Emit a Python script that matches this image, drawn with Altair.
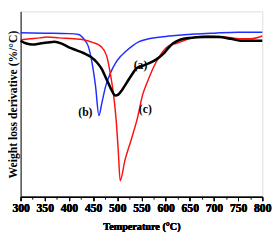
import altair as alt
import pandas as pd

# Temperature (°C) and weight-loss derivative (arbitrary units, negative = loss)
black_T = [300, 312, 325, 340, 355, 370, 385, 400, 415, 430, 445, 458, 468, 478, 488, 496, 502, 510,
           520, 530, 540, 550, 565, 580, 595, 605, 615, 630, 650, 680, 710, 735, 755, 780, 800]
black_v = [-34, -37, -38, -37, -36, -35, -37, -41, -44, -47, -51, -57, -64, -75, -86, -92, -91, -86,
           -78, -70, -63, -61, -58, -54, -48, -42, -37, -33, -31, -30, -30, -32, -34, -34, -34]

blue_T = [300, 350, 400, 420, 432, 440, 448, 455, 462, 468, 476, 486, 496, 506, 516, 530, 545,
          565, 590, 620, 660, 700, 750, 800]
blue_v = [-25.5, -26, -26.5, -27.5, -33, -40, -58, -82, -113, -100, -82, -68, -58, -51, -46, -40, -35,
          -32, -30, -28.5, -27, -26, -25, -25]

red_T = [300, 320, 340, 355, 380, 410, 430, 450, 466, 478, 486, 492, 498, 502, 506, 516, 528, 542,
         552, 562, 575, 588, 600, 612, 622, 642, 662, 688, 722, 756, 776, 800]
red_v = [-33, -32, -31, -30, -31, -32, -33, -36, -40, -50, -70, -90, -120, -150, -182, -160, -140, -115,
         -92, -78, -62, -50, -42, -38, -37, -33, -30, -29, -30, -32, -32, -29]

label_text = ["(a)", "(b)", "(c)"]
label_T = [548, 434, 558]
label_v = [-60, -110, -106]

major_ticks = [300, 350, 400, 450, 500, 550, 600, 650, 700, 750, 800]
minor_ticks = [325, 375, 425, 475, 525, 575, 625, 675, 725, 775]

FONT = "Liberation Serif"

xscale = alt.Scale(domain=[300, 800], nice=False, zero=False)
yscale = alt.Scale(domain=[-199, -3], nice=False, zero=False)

x_major = alt.Axis(values=major_ticks, orient="bottom", grid=False, tickSize=4, tickColor="black",
                   domainColor="black", labelFont=FONT, labelFontWeight="bold", labelFontSize=12,
                   labelColor="black", labelPadding=2, labelFlush=False, labelOverlap=False,
                   title="Temperature (°C)", titleFont=FONT, titleFontWeight="bold", titleFontSize=10.5,
                   titleColor="black", titlePadding=9)
y_axis = alt.Axis(orient="left", grid=False, ticks=False, labels=False, domainColor="black",
                  title="Weight loss derivative (%/°C)", titleFont=FONT, titleFontWeight="bold",
                  titleFontSize=12, titleColor="black", titlePadding=1)


def series(T, v, color, width):
    df = pd.DataFrame({"T": T, "v": v})
    return alt.Chart(df).mark_line(color=color, strokeWidth=width, interpolate="monotone").encode(
        x=alt.X("T:Q", scale=xscale, axis=x_major),
        y=alt.Y("v:Q", scale=yscale, axis=y_axis),
    )


blue = series(blue_T, blue_v, "#1f2fff", 1.5)
red = series(red_T, red_v, "#ff1010", 1.5)
black = series(black_T, black_v, "black", 2.6)

lab_df = pd.DataFrame({"t": label_text, "T": label_T, "v": label_v})
labels = alt.Chart(lab_df).mark_text(font=FONT, fontWeight="bold", fontSize=12, color="black").encode(
    x=alt.X("T:Q", scale=xscale, axis=x_major),
    y=alt.Y("v:Q", scale=yscale, axis=y_axis),
    text="t:N",
)

minor_df = pd.DataFrame({"T": minor_ticks})
minor = alt.Chart(minor_df).mark_point(opacity=0).encode(
    x=alt.X("T:Q", scale=xscale,
            axis=alt.Axis(values=minor_ticks, orient="bottom", grid=False, labels=False, domain=False,
                          tickSize=2.5, tickColor="black", title=None)),
)

chart = alt.layer(blue, red, black, labels, minor).resolve_axis(x="independent").properties(
    width=249, height=191,
    autosize=alt.AutoSizeParams(type="none"),
    padding={"left": 13, "top": 0, "right": 10, "bottom": 40},
).configure_view(stroke="#888888", strokeWidth=1.2).configure(background="white")

chart.save("out.html", embed_options={"renderer": "svg", "actions": False})
